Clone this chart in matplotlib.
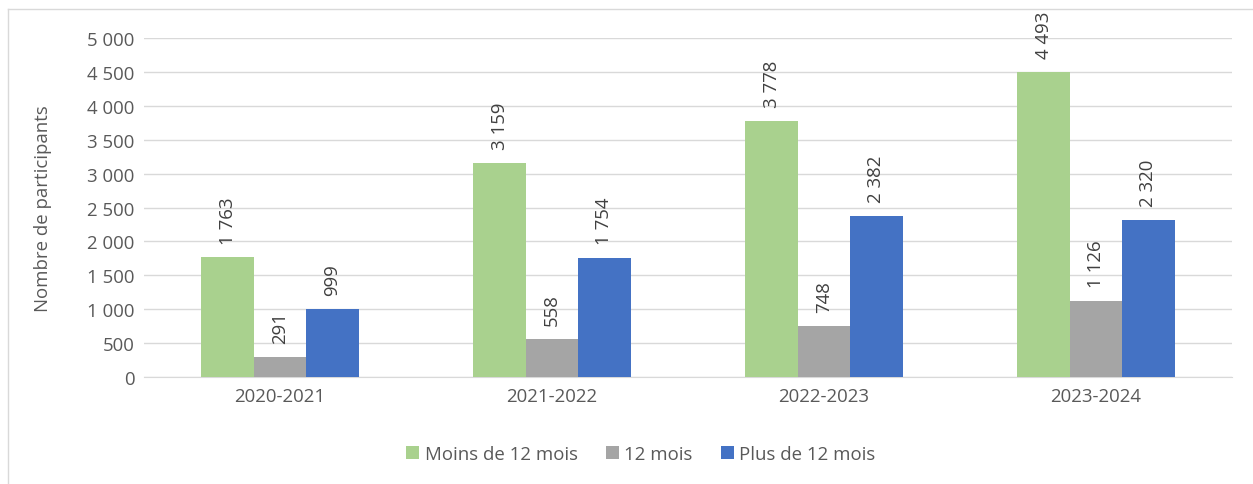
import matplotlib
matplotlib.use("Agg")
import matplotlib.pyplot as plt
import numpy as np
from matplotlib.lines import Line2D

categories = ["2020-2021", "2021-2022", "2022-2023", "2023-2024"]
series_names = ["Moins de 12 mois", "12 mois", "Plus de 12 mois"]
moins_12 = [1763, 3159, 3778, 4493]
douze = [291, 558, 748, 1126]
plus_12 = [999, 1754, 2382, 2320]
colors = ["#A9D18E", "#A5A5A5", "#4472C4"]
yticks = [0, 500, 1000, 1500, 2000, 2500, 3000, 3500, 4000, 4500, 5000]

def fmt(v):
    return f"{v:,}".replace(",", " ")

FS = 13.4
plt.rcParams['font.family'] = ['Open Sans', 'DejaVu Sans']
fig = plt.figure(figsize=(12.53, 4.85), dpi=100)
ax = fig.add_axes([144/1253, 1-378/485, (1232-144)/1253, (378-39)/485])

# outer chart border (top and left visible)
fig.lines.append(Line2D([8/1253, 8/1253], [0, 1-10/485], transform=fig.transFigure,
                        color="#D9D9D9", linewidth=1))
fig.lines.append(Line2D([8/1253, 1], [1-10/485, 1-10/485], transform=fig.transFigure,
                        color="#D9D9D9", linewidth=1))

x = np.arange(len(categories))
w = 0.193
data = [moins_12, douze, plus_12]
for i, (vals, c, name) in enumerate(zip(data, colors, series_names)):
    pos = x + (i - 1) * w
    ax.bar(pos, vals, width=w, color=c, label=name, zorder=3)
    for p, v in zip(pos, vals):
        ax.annotate(fmt(v), (p, v), xytext=(0, 10), textcoords="offset points",
                    rotation=90, ha="center", va="bottom", fontsize=FS, color="#404040")

ax.set_xlim(-0.5, len(categories) - 0.5)
ax.set_ylim(0, 5000)
ax.set_yticks(yticks)
ax.set_yticklabels([fmt(t) for t in yticks], fontsize=FS, color="#595959")
ax.set_xticks(x)
ax.set_xticklabels(categories, fontsize=FS, color="#595959")
ax.tick_params(axis="both", length=0, pad=7)
ax.grid(axis="y", color="#D9D9D9", linewidth=1, zorder=0)
for s in ["top", "right", "left"]:
    ax.spines[s].set_visible(False)
ax.spines["bottom"].set_color("#D9D9D9")
ax.set_ylabel("Nombre de participants", fontsize=FS, color="#595959")
ax.yaxis.set_label_coords(-92/1088, 0.5)

fig.legend(loc="center", bbox_to_anchor=(641/1253, 1-455/485), ncol=3, frameon=False,
           fontsize=FS, handlelength=0.7, handleheight=0.7, handletextpad=0.3,
           columnspacing=1.5, labelcolor="#595959")

fig.savefig("out.png", dpi=100)
